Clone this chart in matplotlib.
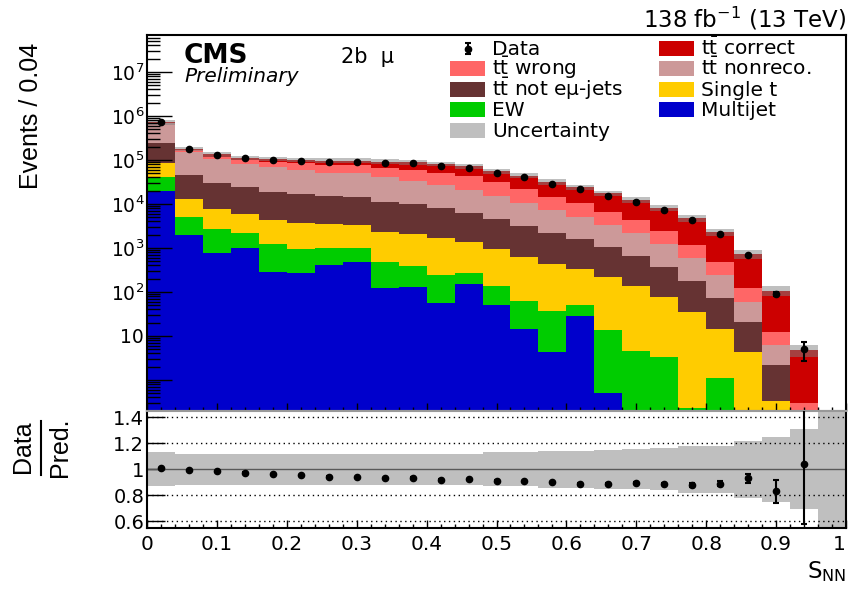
import numpy as np
import matplotlib
matplotlib.use("Agg")
import matplotlib.pyplot as plt
from matplotlib.patches import Rectangle
from matplotlib.ticker import (FixedLocator, FixedFormatter, MultipleLocator,
                               LogLocator, NullFormatter)

# --- values (25 bins of 0.04 in S_NN) ---
edges = np.linspace(0.0, 1.0, 26)

multijet = [19700, 1970, 780, 980, 280, 270, 410, 490, 120, 132, 55, 152, 50,
            14.5, 4.4, 28.5, 0.51, 0, 0, 0, 0, 0, 0, 0, 0]
ew = [22300, 3130, 1880, 1220, 950, 660, 570, 490, 370, 258, 185, 123, 87,
      47.5, 33.2, 21.5, 13.2, 4.6, 3.3, 0.23, 1.13, 0, 0, 0, 0]
single_t = [42000, 7700, 4940, 3700, 3070, 2670, 2470, 2320, 1860, 1660, 1420,
            1115, 813, 548, 392, 280, 202, 132, 73, 35.5, 13.3, 4.3, 0.33, 0, 0]
tt_not_emu = [163000, 32900, 21900, 18100, 14700, 13300, 11750, 11400, 8950,
              7750, 6290, 4810, 3550, 2550, 1770, 1250, 824, 523, 284, 144,
              57.6, 16.2, 1.87, 0.03, 0]
tt_nonreco = [448000, 106300, 74500, 57000, 49000, 42100, 34800, 36300, 28700,
              24200, 19050, 14800, 10700, 7240, 5100, 3520, 2260, 1490, 850,
              420, 168, 39.5, 4.0, 0.05, 0]
tt_wrong = [10000, 14000, 15000, 19000, 22000, 25000, 27000, 26000, 25000,
            25000, 24000, 22000, 16800, 11200, 7400, 5300, 3400, 2150, 1220,
            570, 230, 61, 5.9, 0.22, 0]
tt_correct = [5000, 12000, 14000, 11000, 15000, 16000, 20000, 20000, 27000,
              30000, 30000, 29000, 23000, 22400, 17300, 13600, 10800, 8300,
              5670, 3630, 1810, 609, 95, 4.5, 0]
data = [719000, 176600, 131000, 108100, 101200, 95600, 91500, 91300, 85800,
        83300, 74500, 66600, 50200, 39900, 28800, 21300, 15500, 11300, 7180,
        4210, 2030, 680, 89, 5, 0]
# relative uncertainty of the prediction (ratio band half-width)
rel_unc = [0.132, 0.12, 0.12, 0.12, 0.12, 0.12, 0.12, 0.12, 0.12, 0.12, 0.12,
           0.12, 0.13, 0.13, 0.143, 0.143, 0.15, 0.155, 0.163, 0.18, 0.18,
           0.22, 0.25, 0.31, 1.0]

proc_colors = ['#0000cc', '#00cc00', '#ffcc00', '#663333', '#cc9999',
               '#ff6666', '#cc0000']
unc_color = '#bfbfbf'

y_tick_vals = [1, 10, 1e2, 1e3, 1e4, 1e5, 1e6, 1e7]
y_tick_labels = ['', '10', '$10^{2}$', '$10^{3}$', '$10^{4}$', '$10^{5}$',
                 '$10^{6}$', '$10^{7}$']
r_tick_vals = [0.6, 0.8, 1.0, 1.2, 1.4]
r_tick_labels = ['0.6', '0.8', '1', '1.2', '1.4']
x_tick_vals = [0, 0.1, 0.2, 0.3, 0.4, 0.5, 0.6, 0.7, 0.8, 0.9, 1.0]
x_tick_labels = ['0', '0.1', '0.2', '0.3', '0.4', '0.5', '0.6', '0.7', '0.8',
                 '0.9', '1']

tt = r't$\bar{\mathrm{t}}$'
legend_left = [('Data', None), (tt + ' wrong', '#ff6666'),
               (tt + ' not eμ-jets', '#663333'), ('EW', '#00cc00'),
               ('Uncertainty', unc_color)]
legend_right = [(tt + ' correct', '#cc0000'), (tt + ' nonreco.', '#cc9999'),
                ('Single t', '#ffcc00'), ('Multijet', '#0000cc')]

narrow = ['Liberation Sans Narrow', 'Liberation Sans', 'DejaVu Sans']

W, H = 850, 592
fig = plt.figure(figsize=(W / 100, H / 100), dpi=100)


def px_rect(l, t, r, b):
    return [l / W, 1 - b / H, (r - l) / W, (b - t) / H]


ax = fig.add_axes(px_rect(147, 35, 846, 411))
rax = fig.add_axes(px_rect(147, 411, 846, 528))

stack = np.array([multijet, ew, single_t, tt_not_emu, tt_nonreco, tt_wrong,
                  tt_correct], dtype=float)
cum = np.cumsum(stack, axis=0)
total = cum[-1]
floor = 1e-3

# draw cumulative tops, biggest first, so layers never leave seams
for k in range(len(stack) - 1, -1, -1):
    ax.stairs(np.maximum(cum[k], floor), edges, baseline=floor, fill=True,
              color=proc_colors[k], lw=0)

unc = np.array(rel_unc)
has_pred = total > 0
ax.stairs(np.where(has_pred, total * (1 + unc), floor), edges,
          baseline=np.where(has_pred, total * (1 - unc), floor), fill=True,
          color='0.5', alpha=0.5, lw=0)

centers = 0.5 * (edges[1:] + edges[:-1])
d = np.array(data, dtype=float)
m = d > 0
ax.errorbar(centers[m], d[m], yerr=np.sqrt(d[m]), fmt='o', color='black',
            ms=4.5, elinewidth=1.5, capsize=2.5, capthick=1.5, zorder=5)

ax.set_yscale('log')
ax.set_xlim(0, 1)
ax.set_ylim(0.197, 6.9e7)
ax.yaxis.set_major_locator(FixedLocator(y_tick_vals))
ax.yaxis.set_major_formatter(FixedFormatter(y_tick_labels))
ax.yaxis.set_minor_locator(LogLocator(base=10, subs=np.arange(2, 10), numticks=20))
ax.yaxis.set_minor_formatter(NullFormatter())
ax.xaxis.set_major_locator(MultipleLocator(0.1))
ax.xaxis.set_minor_locator(MultipleLocator(0.02))
ax.tick_params(axis='x', which='both', direction='in', labelbottom=False,
               top=False)
ax.tick_params(axis='x', which='major', length=6, width=1)
ax.tick_params(axis='x', which='minor', length=3, width=1)
ax.tick_params(axis='y', which='both', direction='in', right=False,
               labelsize=13.5, pad=2)
ax.tick_params(axis='y', which='major', length=18, width=1)
ax.tick_params(axis='y', which='minor', length=9, width=1)

# ratio panel
rax.stairs(1 + unc, edges, baseline=1 - unc, fill=True, color=unc_color, lw=0)
for v in (0.6, 0.8, 1.2, 1.4):
    rax.axhline(v, color='black', lw=1, ls=(0, (1, 2.5)))
rax.axhline(1, color='0.35', lw=1)
ratio = d[m] / total[m]
rax.errorbar(centers[m], ratio, yerr=np.sqrt(d[m]) / total[m], fmt='o',
             color='black', ms=4.5, elinewidth=1.5, capsize=2.5, capthick=1.5,
             zorder=5)
rax.set_xlim(0, 1)
rax.set_ylim(0.547, 1.45)
rax.yaxis.set_major_locator(FixedLocator(r_tick_vals))
rax.yaxis.set_major_formatter(FixedFormatter(r_tick_labels))
rax.xaxis.set_major_locator(FixedLocator(x_tick_vals))
rax.xaxis.set_major_formatter(FixedFormatter(x_tick_labels))
rax.xaxis.set_minor_locator(MultipleLocator(0.02))
rax.tick_params(axis='x', which='both', direction='in', top=False,
                labelsize=14.5, pad=5)
rax.tick_params(axis='x', which='major', length=6, width=1)
rax.tick_params(axis='x', which='minor', length=3, width=1)
rax.tick_params(axis='y', which='major', direction='in', length=13, width=1,
                right=False, labelsize=14, pad=2)
# keep the last x label ("1") inside the canvas
rax.get_xticklabels()[-1].set_horizontalalignment('right')

for a in (ax, rax):
    for s in a.spines.values():
        s.set_linewidth(1.5)
ax.spines['bottom'].set_color('0.6')
rax.spines['top'].set_color('0.6')

# overlay in pixel coordinates for labels and legend
lay = fig.add_axes([0, 0, 1, 1], zorder=10)
lay.set_xlim(0, W)
lay.set_ylim(H, 0)
lay.axis('off')

lay.text(846, 27, r'138 fb$^{-1}$ (13 TeV)', ha='right', va='baseline',
         fontsize=16.5)
lay.text(184, 63, 'CMS', fontweight='bold', fontsize=19, va='baseline')
lay.text(184, 82, 'Preliminary', style='italic', fontsize=14.5, va='baseline')
lay.text(341, 63, '2b  μ', fontsize=15, va='baseline')

for col_x, entries in ((450, legend_left), (659, legend_right)):
    for i, (lab, col) in enumerate(entries):
        yc = 48.5 + 20.4 * i
        if col is None:
            lay.errorbar([col_x + 18], [yc], yerr=[5.5], fmt='o', color='black',
                         ms=4.5, elinewidth=1.5, capsize=2.5, capthick=1.5)
        else:
            lay.add_patch(Rectangle((col_x, yc - 7.5), 35, 15, color=col, lw=0))
        lay.text(col_x + 42, yc + 6.5, lab, fontsize=14.5, va='baseline')

lay.text(31, 43, 'Events / 0.04', rotation=90, ha='center', va='top',
         fontsize=18, family=narrow)
lay.text(23, 447, 'Data', rotation=90, ha='center', va='center',
         fontsize=18, family=narrow)
lay.text(60, 447, 'Pred.', rotation=90, ha='center', va='center',
         fontsize=18, family=narrow)
lay.plot([41.5, 41.5], [421, 475], color='black', lw=1.5)
lay.text(846, 578, r'S$_{\mathrm{NN}}$', ha='right', va='baseline',
         fontsize=16.5)

fig.savefig('out.png', dpi=100)
